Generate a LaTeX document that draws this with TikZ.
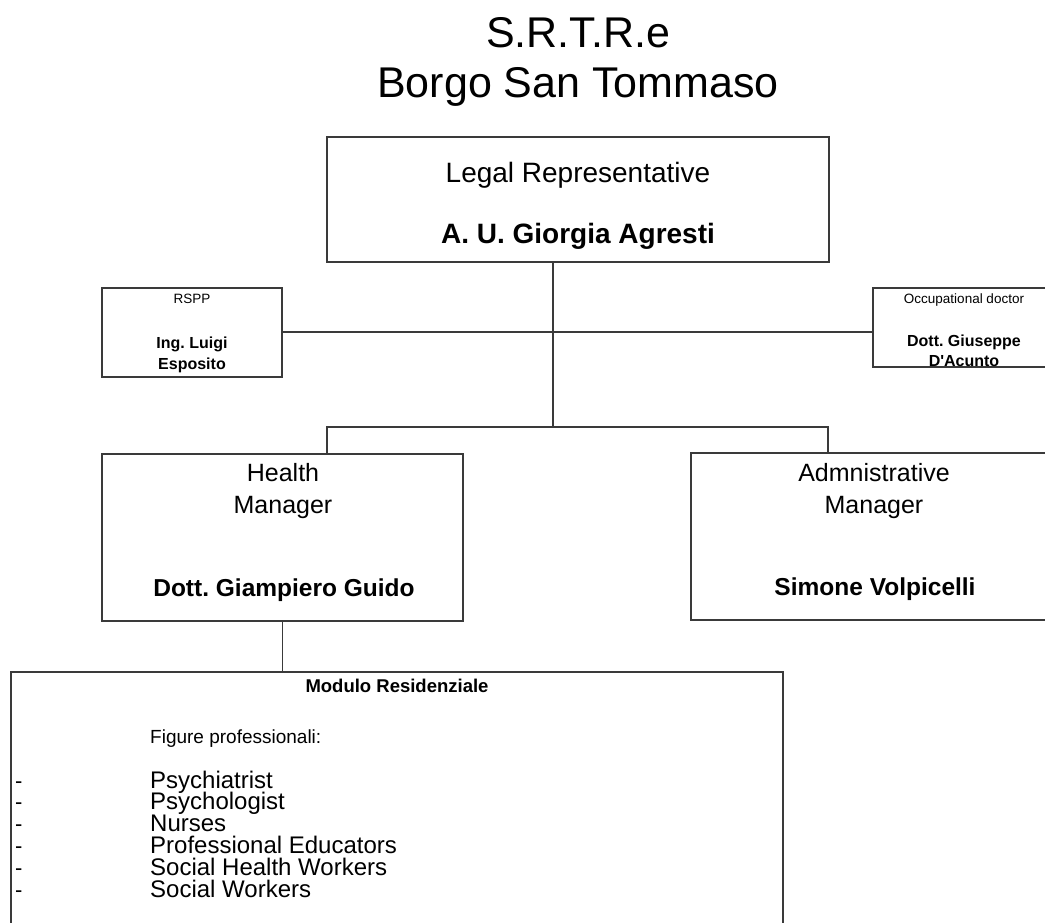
\documentclass[tikz,border=0pt]{standalone}
\usepackage{fontspec}
\setmainfont{Liberation Sans}
\frenchspacing
\definecolor{linegray}{HTML}{3A3A3A}
\begin{document}
\begin{tikzpicture}[x=1pt,y=-1pt,
  box/.style={draw=linegray, line width=1.6pt, rectangle, inner sep=0pt, outer sep=0pt},
  conn/.style={draw=linegray, line width=1.6pt},
  txt/.style={inner sep=0pt, anchor=base},
  titlef/.style={txt, font=\fontsize{43}{50}\selectfont},
  bigf/.style={txt, font=\fontsize{28}{32}\selectfont},
  bigbf/.style={txt, font=\fontsize{28}{32}\selectfont\bfseries},
  midf/.style={txt, font=\fontsize{25}{30}\selectfont},
  midbf/.style={txt, font=\fontsize{24.5}{30}\selectfont\bfseries},
  smallf/.style={txt, font=\fontsize{13.5}{16}\selectfont},
  smallbf/.style={txt, font=\fontsize{16}{19}\selectfont\bfseries},
  modf/.style={txt, font=\fontsize{18.5}{22}\selectfont\bfseries},
  figf/.style={txt, anchor=base west, font=\fontsize{19}{22}\selectfont},
  listf/.style={txt, anchor=base west, font=\fontsize{24}{26}\selectfont},
  dashf/.style={txt, anchor=base west, font=\fontsize{22}{26}\selectfont}
]
\useasboundingbox (0,0) rectangle (1045,922);
\clip (0,0) rectangle (1045,922);

% title
\node[titlef] (t1) at (578,47) {S.R.T.R.e};
\node[titlef] (t2) at (578,97) {Borgo San Tommaso};

% boxes
\node[box, minimum width=502pt, minimum height=125pt] (legal) at (578,199.5) {};
\node[box, minimum width=180pt, minimum height=89pt] (rspp) at (192,332.5) {};
\node[box, minimum width=182pt, minimum height=79pt] (occ) at (964,327.5) {};
\node[box, minimum width=361pt, minimum height=167pt] (health) at (282.5,537.5) {};
\node[box, minimum width=364pt, minimum height=167pt] (admin) at (873,536.5) {};
\node[box, minimum width=772pt, minimum height=298pt] (modulo) at (397,821) {};

% connectors
\coordinate (j1) at (553,332);
\coordinate (j2) at (553,427);
\coordinate (hl) at (327,427);
\coordinate (ar) at (828,427);
\draw[conn] (legal.south -| j1) -- (j2);
\draw[conn] (rspp.east |- j1) -- (occ.west |- j1);
\draw[conn] (health.north -| hl) -- (hl) -- (ar) -- (admin.north -| ar);
\draw[conn] (health.south) -- (modulo.north -| health.south);

% legal representative
\node[bigf] (lr1) at (578,182) {Legal Representative};
\node[bigbf] (lr2) at (578,243) {A. U. Giorgia Agresti};

% RSPP
\node[smallf] (r1) at (192,303) {RSPP};
\node[smallbf] (r2) at (192,348) {Ing. Luigi};
\node[smallbf] (r3) at (192,369) {Esposito};

% occupational doctor
\node[smallf] (o1) at (964,303) {Occupational doctor};
\node[smallbf] (o2) at (964,346) {Dott. Giuseppe};
\node[smallbf] (o3) at (964,366) {D\textquotesingle Acunto};

% health manager
\node[midf] (h1) at (283,481) {Health};
\node[midf] (h2) at (283,513) {Manager};
\node[midbf] (h3) at (284,596) {Dott. Giampiero Guido};

% administrative manager
\node[midf] (a1) at (874,481) {Admnistrative};
\node[midf] (a2) at (874,513) {Manager};
\node[midbf] (a3) at (875,595) {Simone Volpicelli};

% modulo residenziale
\node[modf] (m1) at (397,692) {Modulo Residenziale};
\node[figf] (m2) at (150,743) {Figure professionali:};
\node[listf] (l1) at (150,788) {Psychiatrist};
\node[listf] (l2) at (150,809.8) {Psychologist};
\node[listf] (l3) at (150,831.6) {Nurses};
\node[listf] (l4) at (150,853.4) {Professional Educators};
\node[listf] (l5) at (150,875.2) {Social Health Workers};
\node[listf] (l6) at (150,897) {Social Workers};
\node[dashf] (d1) at (15,788) {-};
\node[dashf] (d2) at (15,809.8) {-};
\node[dashf] (d3) at (15,831.6) {-};
\node[dashf] (d4) at (15,853.4) {-};
\node[dashf] (d5) at (15,875.2) {-};
\node[dashf] (d6) at (15,897) {-};
\end{tikzpicture}
\end{document}
